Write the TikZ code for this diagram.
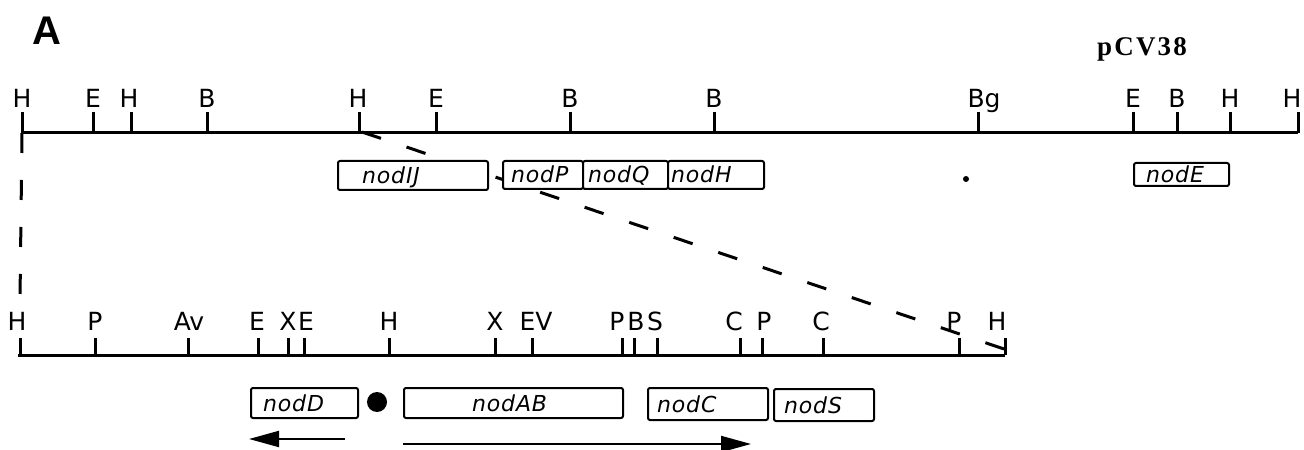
\documentclass[tikz,border=0pt]{standalone}
\usepackage{fontspec}
\usetikzlibrary{arrows.meta}
\newfontfamily\labfont{DejaVu Sans}
\newfontfamily\genefont[LetterSpace=4]{DejaVu Sans}
\newfontfamily\titlefont{Liberation Sans}
\newfontfamily\plasfont[LetterSpace=8]{Liberation Serif}
\tikzset{
  mapline/.style={line width=3bp},
  tickmark/.style={line width=3bp},
  lab/.style={anchor=base, inner sep=0pt, font=\labfont\fontsize{25bp}{25bp}\selectfont},
  gene/.style={draw, line width=2bp, fill=white, rounded corners=2bp, anchor=north west,
    inner ysep=0pt, text height=16bp, text depth=0bp, align=left,
    font=\genefont\itshape\fontsize{22bp}{22bp}\selectfont},
  dashline/.style={line width=3bp, dash pattern=on 20bp off 27bp},
  arrowline/.style={line width=2bp, -{Triangle[length=30bp,width=16bp]}}
}
\begin{document}
\begin{tikzpicture}[x=1bp,y=-1bp]
\useasboundingbox (0,0) rectangle (1304,450);
% titles
\node[anchor=base west, inner sep=0pt, font=\titlefont\bfseries\fontsize{40bp}{40bp}\selectfont] (title) at (32,45) {A};
\node[anchor=base west, inner sep=0pt, font=\plasfont\bfseries\fontsize{27bp}{27bp}\selectfont] (pcv) at (1097,56) {pCV38};
% end points of the maps
\coordinate (topL) at (22,133);
\coordinate (topR) at (1298,133);
\coordinate (botL) at (18,355);
\coordinate (botR) at (1005,355);
\coordinate (vEnd) at (20,300);
\coordinate (dStart) at (362,132);
\coordinate (dEnd) at (1004,349);
% dashed expansion lines
\draw[dashline] (topL) -- (vEnd);
\draw[dashline] (dStart) -- (dEnd);
% top map
\draw[mapline] (topL) -- (topR);
\foreach \tx/\lx/\l [count=\i] in {22/22/H,93/93/E,131/129/H,207/207/B,359/358/H,436/436/E,570/570/B,714/714/B,978/984/Bg,1133/1133/E,1177/1177/B,1230/1230/H,1298/1292/H}{
  \coordinate (tt\i) at (\tx,133);
  \draw[tickmark] (tt\i) -- ++(0,-21);
  \node[lab] (tl\i) at (\lx,108) {\l};
}
% bottom map
\draw[mapline] (botL) -- (botR);
\foreach \tx/\lx/\l [count=\i] in {20/17/H,95/95/P,188/189/Av,258/257/E,288/288/X,304/306/E,389/389/H,495/495/X,532/536/EV,622/617/P,634/636/B,657/655/S,740/734/C,762/764/P,823/821/C,959/954/P,1005/997/H}{
  \coordinate (bt\i) at (\tx,355);
  \draw[tickmark] (bt\i) -- ++(0,-17);
  \node[lab] (bl\i) at (\lx,330) {\l};
}
% top genes
\node[gene, minimum height=29bp, text width=102bp, inner xsep=24bp] (nodIJ) at (337,160) {nodIJ};
\node[gene, minimum height=28bp, text width=64bp, inner xsep=8bp] (nodP) at (502,160) {nodP};
\node[gene, minimum height=28bp, text width=75bp, inner xsep=5bp] (nodQ) at (582,160) {nodQ};
\node[gene, minimum height=28bp, text width=90bp, inner xsep=3bp] (nodH) at (667,160) {nodH};
\node[gene, minimum height=23bp, text width=71bp, inner xsep=12bp] (nodE) at (1133,162) {nodE};
\node[circle, fill, inner sep=0pt, minimum size=6bp] (smalldot) at (966,179) {};
% bottom genes
\node[gene, minimum height=30bp, text width=83bp, inner xsep=12bp] (nodD) at (250,387) {nodD};
\node[circle, fill, inner sep=0pt, minimum size=20bp] (bigdot) at (377,402) {};
\node[gene, minimum height=30bp, text width=83bp, inner xsep=68bp] (nodAB) at (403,387) {nodAB};
\node[gene, minimum height=32bp, text width=102bp, inner xsep=9bp] (nodC) at (647,387) {nodC};
\node[gene, minimum height=32bp, text width=80bp, inner xsep=10bp] (nodS) at (773,388) {nodS};
% transcription arrows
\coordinate (aL1) at (345,439);
\coordinate (aL2) at (249,439);
\coordinate (aR1) at (403,444);
\coordinate (aR2) at (751,444);
\draw[arrowline] (aL1) -- (aL2);
\draw[arrowline] (aR1) -- (aR2);
\end{tikzpicture}
\end{document}
